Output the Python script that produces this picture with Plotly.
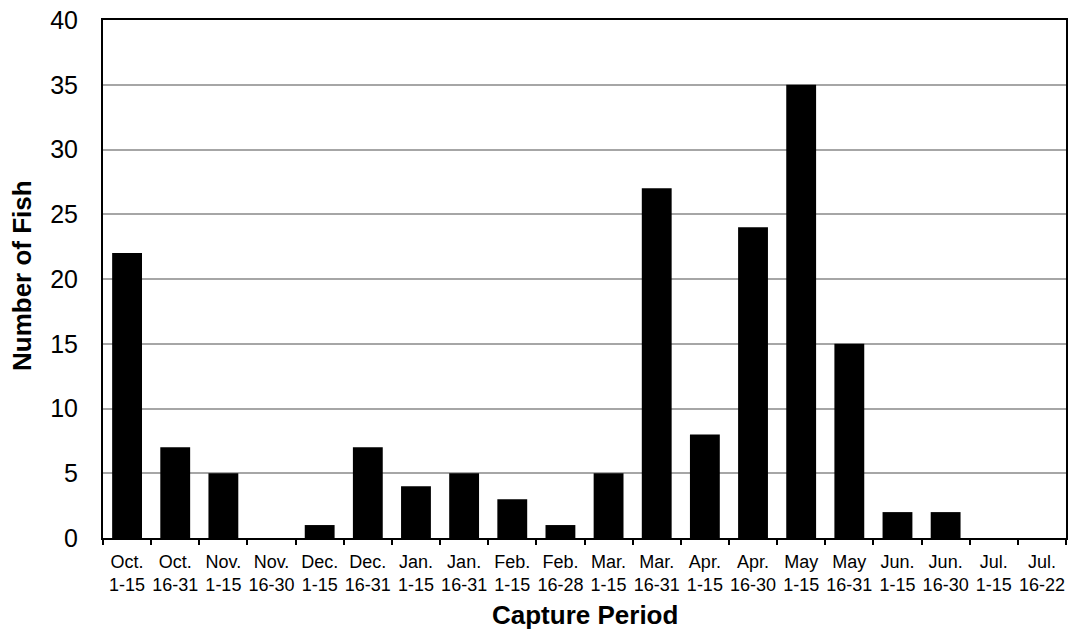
import plotly.graph_objects as go

categories = ["Oct.<br>1-15", "Oct.<br>16-31", "Nov.<br>1-15", "Nov.<br>16-30",
              "Dec.<br>1-15", "Dec.<br>16-31", "Jan.<br>1-15", "Jan.<br>16-31",
              "Feb.<br>1-15", "Feb.<br>16-28", "Mar.<br>1-15", "Mar.<br>16-31",
              "Apr.<br>1-15", "Apr.<br>16-30", "May<br>1-15", "May<br>16-31",
              "Jun.<br>1-15", "Jun.<br>16-30", "Jul.<br>1-15", "Jul.<br>16-22"]
fish_counts = [22, 7, 5, 0, 1, 7, 4, 5, 3, 1, 5, 27, 8, 24, 35, 15, 2, 2, 0, 0]
y_ticks = [0, 5, 10, 15, 20, 25, 30, 35, 40]

fig = go.Figure(go.Bar(x=categories, y=fish_counts, marker_color="black",
                       marker_line_width=0))

fig.update_layout(
    width=1068, height=630,
    margin=dict(l=103, r=2, t=20, b=92),
    plot_bgcolor="white", paper_bgcolor="white",
    bargap=0.38,
    font=dict(family="Liberation Sans, Arial", color="black"),
    showlegend=False,
    annotations=[
        dict(text="<b>Capture Period</b>", x=0.5, y=0, xref="paper", yref="paper",
             xanchor="center", yanchor="middle", yshift=-77, showarrow=False,
             font=dict(size=26)),
        dict(text="<b>Number of Fish</b>", x=0, y=0.5, xref="paper", yref="paper",
             xanchor="center", yanchor="middle", xshift=-81, yshift=3, textangle=-90,
             showarrow=False, font=dict(size=26)),
    ],
)
fig.update_xaxes(
    showline=True, linecolor="black", linewidth=2, mirror=True,
    ticks="outside", tickson="boundaries", ticklen=5, tickcolor="black", tickwidth=2,
    tickfont=dict(size=18), tickangle=0, showgrid=False, automargin=False,
    ticklabelstandoff=6,
)
fig.update_yaxes(
    range=[0, 40], tickvals=y_ticks, showline=True, linecolor="black", linewidth=2,
    mirror=True, showgrid=True, gridcolor="#a6a6a6", gridwidth=1.5,
    tickfont=dict(size=25), ticks="", zeroline=False, automargin=False,
    ticklabelstandoff=18,
)
fig.write_html("out.html", config={"displayModeBar": False})

with open("out.html", encoding="utf-8") as f:
    html = f.read()
html = html.replace("<body>", '<body style="margin:0;padding:0;overflow:hidden">', 1)
with open("out.html", "w", encoding="utf-8") as f:
    f.write(html)
